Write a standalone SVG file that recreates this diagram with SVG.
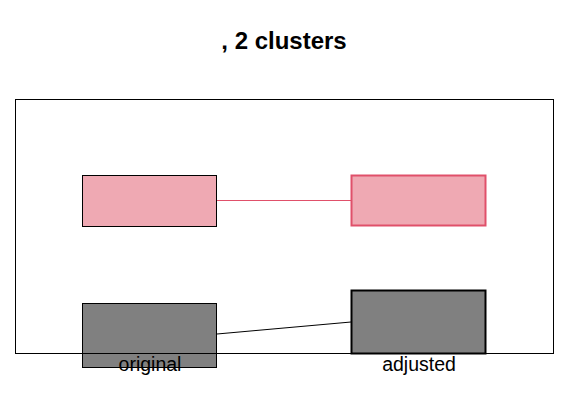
<svg xmlns="http://www.w3.org/2000/svg" width="566" height="417" viewBox="0 0 566 417">
<style>
text{font-family:"Liberation Sans",Arial,sans-serif;fill:#000}
.t{font-size:24px;font-weight:bold}
.l{font-size:19.5px}
.pk{fill:#EFA9B3}
.gr{fill:#808080}
</style>
<rect width="566" height="417" fill="#fff"/>
<text class="t" x="284" y="49" text-anchor="middle">, 2 clusters</text>
<g id="connectors">
<line x1="217" y1="200.5" x2="351" y2="200.5" stroke="#E0506A" stroke-width="1"/>
<line x1="217" y1="334" x2="351" y2="322" stroke="#000" stroke-width="1"/>
</g>
<g id="node-original-1"><rect class="pk" x="82.5" y="175.5" width="134" height="51" stroke="#000" stroke-width="1"/></g>
<g id="node-adjusted-1"><rect class="pk" x="351.5" y="175.5" width="134" height="50" stroke="#E0506A" stroke-width="2"/></g>
<g id="node-original-2"><rect class="gr" x="82.5" y="303.5" width="134" height="64" stroke="#000" stroke-width="1"/></g>
<g id="node-adjusted-2"><rect class="gr" x="351.5" y="290.5" width="134" height="63" stroke="#000" stroke-width="2"/></g>
<rect x="15.5" y="99.5" width="538" height="254" fill="none" stroke="#000" stroke-width="1"/>
<text class="l" x="150" y="371" text-anchor="middle">original</text>
<text class="l" x="419" y="371" text-anchor="middle">adjusted</text>
</svg>
